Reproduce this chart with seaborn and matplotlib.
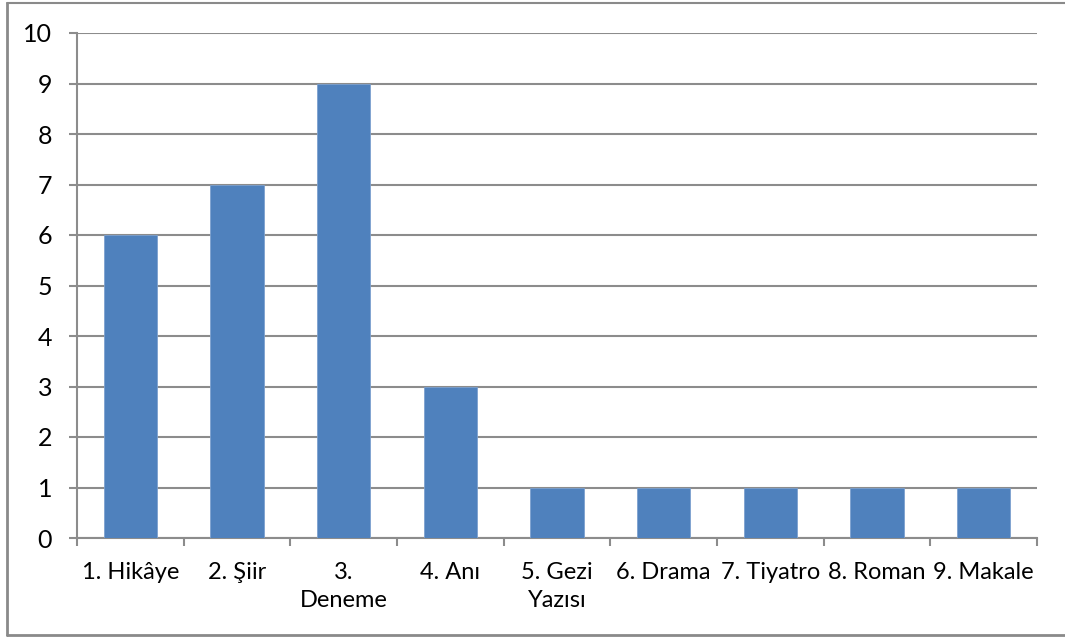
import matplotlib
matplotlib.use("Agg")
import matplotlib.pyplot as plt
from matplotlib.lines import Line2D
from matplotlib.ticker import FixedLocator
import seaborn as sns
import pandas as pd

categories = ["1. Hikâye", "2. Şiir", "3.\nDeneme", "4. Anı", "5. Gezi\nYazısı",
              "6. Drama", "7. Tiyatro", "8. Roman", "9. Makale"]
counts = [6, 7, 9, 3, 1, 1, 1, 1, 1]
y_ticks = list(range(0, 11))

sns.set_style("white")
plt.rcParams["font.family"] = ["Lato", "DejaVu Sans"]

df = pd.DataFrame({"tur": categories, "sayi": counts})

fig = plt.figure(figsize=(10.65, 6.37), dpi=100)
ax = fig.add_axes([77 / 1065, 99 / 637, 960 / 1065, 505 / 637])

grid_c = "#8c8c8c"
sns.barplot(data=df, x="tur", y="sayi", color="#4f81bd", width=0.5,
            saturation=1, linewidth=0.6, edgecolor="#7da1cf", ax=ax, zorder=3)

ax.set_ylim(0, 10)
ax.set_xlim(-0.5, len(categories) - 0.5)
ax.set_yticks(y_ticks)
ax.yaxis.grid(True, color=grid_c, linewidth=1.5, zorder=0)
ax.set_axisbelow(True)
ax.set_xlabel("")
ax.set_ylabel("")

for side in ["top", "right"]:
    ax.spines[side].set_visible(False)
for side in ["left", "bottom"]:
    ax.spines[side].set_color(grid_c)
    ax.spines[side].set_linewidth(1.5)

ax.tick_params(axis="y", length=6, width=1.5, color=grid_c, pad=12,
               labelsize=18, labelcolor="black", left=True)
ax.xaxis.set_minor_locator(FixedLocator([i - 0.5 for i in range(len(categories) + 1)]))
ax.tick_params(axis="x", which="major", length=0, pad=17, labelsize=17,
               labelcolor="black")
ax.tick_params(axis="x", which="minor", length=6, width=1.5, color=grid_c,
               bottom=True)
for lbl in ax.get_xticklabels():
    lbl.set_linespacing(1.45)

# outer chart frame (no right edge visible in the original)
frame_c = "#8a8a8a"
fig.add_artist(Line2D([7 / 1065, 7 / 1065], [2 / 637, 634 / 637], color=frame_c, lw=2,
                      transform=fig.transFigure))
fig.add_artist(Line2D([7 / 1065, 1.0], [634 / 637, 634 / 637], color=frame_c, lw=1.5,
                      transform=fig.transFigure))
fig.add_artist(Line2D([7 / 1065, 1.0], [2 / 637, 2 / 637], color=frame_c, lw=2,
                      transform=fig.transFigure))

fig.savefig("out.png", dpi=100)
